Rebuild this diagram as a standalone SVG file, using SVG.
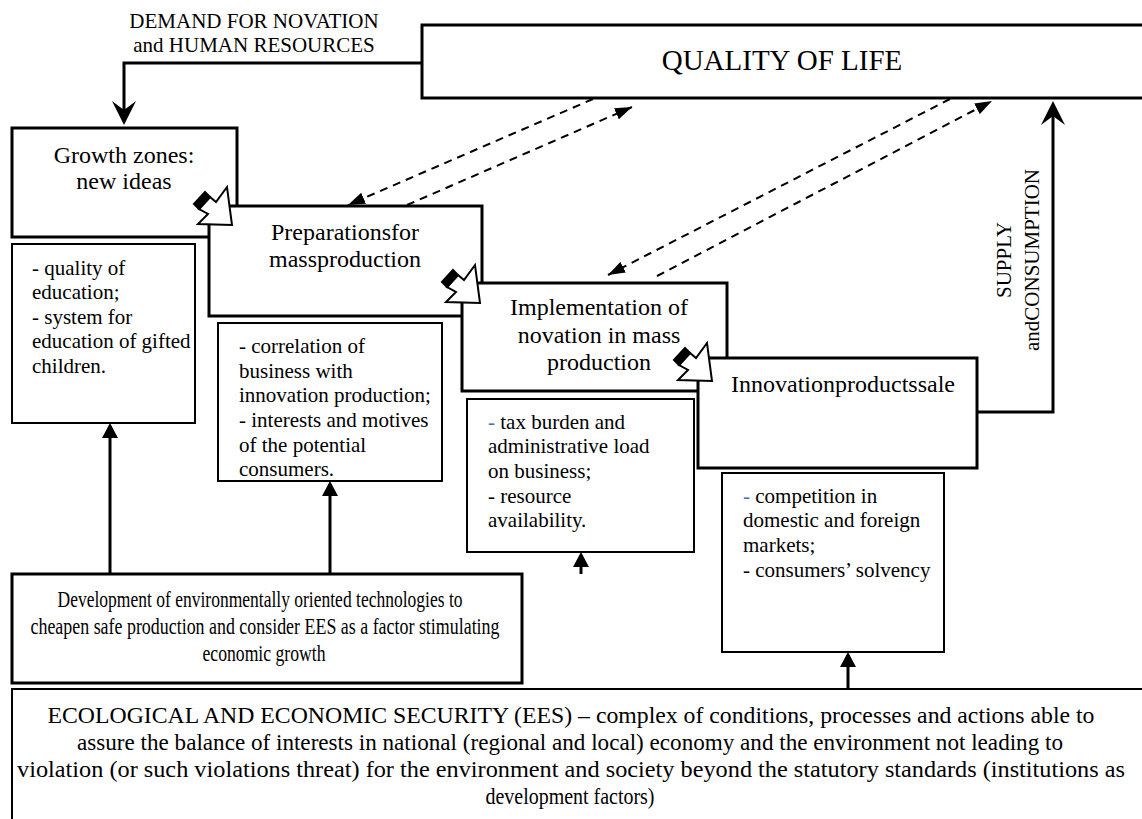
<svg xmlns="http://www.w3.org/2000/svg" xmlns:xlink="http://www.w3.org/1999/xlink" width="1142" height="819" viewBox="0 0 1142 819">
  <style>
    text { font-family: "Liberation Serif", "Times New Roman", serif; fill: #000; }
    .box { fill: #fff; stroke: #000; stroke-width: 3; }
    .fbox { fill: #fff; stroke: #000; stroke-width: 2; }
    .wire { fill: none; stroke: #000; stroke-width: 3; }
    .dash { fill: none; stroke: #000; stroke-width: 2; stroke-dasharray: 8 6; }
    .t24 { font-size: 24px; }
    .t21 { font-size: 21px; }
    .cond { font-size: 23px; }
    .mid { text-anchor: middle; }
    .blue { fill: #4a6fb5; }
  </style>
  <defs>
    <!-- notched head for the thick flow arrows -->
    <marker id="notch" viewBox="0 0 24 24" refX="16" refY="12" markerWidth="24" markerHeight="24" markerUnits="userSpaceOnUse" orient="auto">
      <path d="M0,0 L24,12 L0,24 L9,12 Z" fill="#000"/>
    </marker>
    <!-- small solid head for dashed feedback links -->
    <marker id="tri" viewBox="0 0 17 12" refX="17" refY="6" markerWidth="17" markerHeight="12" markerUnits="userSpaceOnUse" orient="auto">
      <path d="M0,0 L17,6 L0,12 Z" fill="#000"/>
    </marker>
    <!-- solid head for factor arrows -->
    <marker id="up" viewBox="0 0 15 16" refX="12" refY="8" markerWidth="15" markerHeight="16" markerUnits="userSpaceOnUse" orient="auto">
      <path d="M0,0 L15,8 L0,16 Z" fill="#000"/>
    </marker>
    <!-- zigzag transition arrow between stages -->
    <g id="zig">
      <polygon points="25,17 31,22 42,7 47,45 13,44 23,34 14,29" fill="#fff" stroke="#000" stroke-width="2" stroke-linejoin="miter"/>
      <polygon points="9,24 20,12 25,17 14,29" fill="#000" stroke="#000" stroke-width="2"/>
    </g>
  </defs>

  <rect width="1142" height="819" fill="#fff"/>

  <!-- top goal -->
  <g id="quality">
    <rect class="box" x="422" y="25" width="730" height="73"/>
    <text class="mid" x="782" y="70" font-size="29">QUALITY OF LIFE</text>
  </g>

  <!-- stages -->
  <g id="growth">
    <rect class="box" x="12" y="128" width="225" height="109" stroke-width="3.5"/>
    <text class="t24 mid" x="124" y="163">Growth zones:</text>
    <text class="t24 mid" x="124" y="189">new ideas</text>
  </g>
  <g id="preparation">
    <rect class="box" x="209" y="206" width="273" height="110"/>
    <text class="t24 mid" x="345" y="240">Preparationsfor</text>
    <text class="t24 mid" x="345" y="267">massproduction</text>
  </g>
  <g id="implementation">
    <rect class="box" x="462" y="283" width="265" height="108"/>
    <text class="t24 mid" x="599" y="315">Implementation of</text>
    <text class="t24 mid" x="599" y="343">novation in mass</text>
    <text class="t24 mid" x="599" y="370">production</text>
  </g>
  <g id="sale">
    <rect class="box" x="698" y="358" width="279" height="110"/>
    <text class="t24 mid" x="843" y="392">Innovationproductssale</text>
  </g>

  <!-- factor boxes -->
  <g id="factors-education">
    <rect class="fbox" x="12" y="244" width="183" height="179"/>
    <text class="t21" x="32" y="275">- quality of</text>
    <text class="t21" x="32" y="299">education;</text>
    <text class="t21" x="32" y="324">- system for</text>
    <text class="t21" x="32" y="348">education of gifted</text>
    <text class="t21" x="32" y="373">children.</text>
  </g>
  <g id="factors-business">
    <rect class="fbox" x="218" y="323" width="224" height="158"/>
    <text class="t21" x="239" y="353">- correlation of</text>
    <text class="t21" x="239" y="378">business with</text>
    <text class="t21" x="239" y="402">innovation production;</text>
    <text class="t21" x="239" y="427">- interests and motives</text>
    <text class="t21" x="239" y="452">of the potential</text>
    <text class="t21" x="239" y="476">consumers.</text>
  </g>
  <g id="factors-tax">
    <rect class="fbox" x="467" y="399" width="227" height="153"/>
    <text class="t21" x="488" y="429"><tspan class="blue">-</tspan> tax burden and</text>
    <text class="t21" x="488" y="453">administrative load</text>
    <text class="t21" x="488" y="478">on business;</text>
    <text class="t21" x="488" y="503">- resource</text>
    <text class="t21" x="488" y="527">availability.</text>
  </g>
  <g id="factors-market">
    <rect class="fbox" x="722" y="473" width="222" height="179"/>
    <text class="t21" x="743" y="503"><tspan class="blue">-</tspan> competition in</text>
    <text class="t21" x="743" y="527">domestic and foreign</text>
    <text class="t21" x="743" y="552">markets;</text>
    <text class="t21" x="743" y="577">- consumers’ solvency</text>
  </g>

  <!-- base blocks -->
  <g id="development">
    <rect class="box" x="12" y="574" width="510" height="109" stroke-width="3.5"/>
    <text class="cond mid" x="260" y="607" textLength="405" lengthAdjust="spacingAndGlyphs">Development of environmentally oriented technologies to</text>
    <text class="cond mid" x="265" y="634" textLength="469" lengthAdjust="spacingAndGlyphs">cheapen safe production and consider EES as a factor stimulating</text>
    <text class="cond mid" x="264" y="661" textLength="123" lengthAdjust="spacingAndGlyphs">economic growth</text>
  </g>
  <g id="ees">
    <rect class="fbox" x="12" y="689" width="1140" height="140"/>
    <text class="cond mid" x="571" y="723" textLength="1047" lengthAdjust="spacingAndGlyphs">ECOLOGICAL AND ECONOMIC SECURITY (EES) – complex of conditions, processes and actions able to</text>
    <text class="cond mid" x="570" y="750" textLength="986" lengthAdjust="spacingAndGlyphs">assure the balance of interests in national (regional and local) economy and the environment not leading to</text>
    <text class="cond mid" x="571" y="777" textLength="1108" lengthAdjust="spacingAndGlyphs">violation (or such violations threat) for the environment and society beyond the statutory standards (institutions as</text>
    <text class="cond mid" x="570" y="804" textLength="169" lengthAdjust="spacingAndGlyphs">development factors)</text>
  </g>

  <!-- connectors -->
  <g id="connectors">
    <path class="wire" d="M422,63 H124 V117" marker-end="url(#notch)"/>
    <text class="t21 mid" x="254" y="28">DEMAND FOR NOVATION</text>
    <text class="t21 mid" x="254" y="52">and HUMAN RESOURCES</text>

    <path class="wire" d="M977,412 H1053 V109" marker-end="url(#notch)"/>
    <text class="t21 mid" transform="translate(1011,260) rotate(-90)">SUPPLY</text>
    <text class="t21 mid" transform="translate(1039,260) rotate(-90)">andCONSUMPTION</text>

    <line class="dash" x1="593" y1="99" x2="348" y2="205" marker-end="url(#tri)"/>
    <line class="dash" x1="407" y1="205" x2="632" y2="107" marker-end="url(#tri)"/>
    <line class="dash" x1="950" y1="99" x2="608" y2="275" marker-end="url(#tri)"/>
    <line class="dash" x1="657" y1="276" x2="992" y2="101" marker-end="url(#tri)"/>

    <line class="wire" x1="110" y1="574" x2="110" y2="426" marker-end="url(#up)"/>
    <line class="wire" x1="330" y1="574" x2="330" y2="484" marker-end="url(#up)"/>
    <line class="wire" x1="581" y1="574" x2="581" y2="555" marker-end="url(#up)"/>
    <line class="wire" x1="848" y1="689" x2="848" y2="655" marker-end="url(#up)"/>

    <use xlink:href="#zig" x="185" y="180"/>
    <use xlink:href="#zig" x="433" y="258"/>
    <use xlink:href="#zig" x="665" y="336"/>
  </g>
</svg>
